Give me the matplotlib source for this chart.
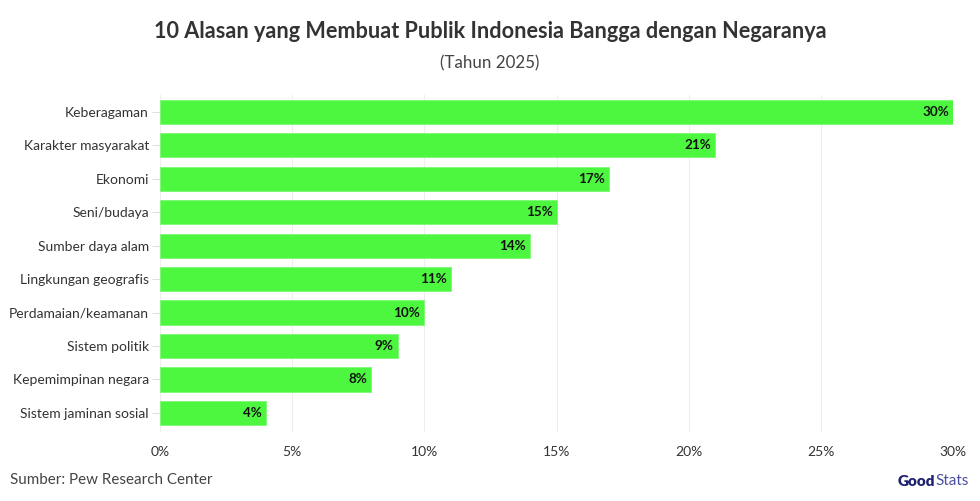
import matplotlib
matplotlib.use("Agg")
import matplotlib.pyplot as plt
from matplotlib.ticker import FuncFormatter

categories = ["Keberagaman", "Karakter masyarakat", "Ekonomi", "Seni/budaya",
              "Sumber daya alam", "Lingkungan geografis", "Perdamaian/keamanan",
              "Sistem politik", "Kepemimpinan negara", "Sistem jaminan sosial"]
values = [30, 21, 17, 15, 14, 11, 10, 9, 8, 4]
xticks = [0, 5, 10, 15, 20, 25, 30]

plt.rcParams['font.family'] = ['Lato', 'DejaVu Sans']

fig = plt.figure(figsize=(9.8, 5.01), dpi=100)
ax = fig.add_axes([160/980, 1-432/501, (953-160)/980, (432-95)/501])

ypos = list(range(len(categories)))
ax.barh(ypos, values, height=0.72, color="#4DF73F", edgecolor="#7CF873", linewidth=0.6, zorder=3)
for y, v in zip(ypos, values):
    ax.annotate(f"{v}%", (v, y), xytext=(-3, 0), textcoords="offset points",
                ha="right", va="center", fontsize=9.7, fontweight="bold", color="#111111", zorder=4)

ax.set_xlim(0, 30)
ax.set_ylim(9.57, -0.5)
ax.set_yticks(ypos)
ax.set_yticklabels(categories, fontsize=10, color="#333333")
ax.set_xticks(xticks)
ax.xaxis.set_major_formatter(FuncFormatter(lambda x, p: f"{int(x)}%"))
ax.tick_params(axis="x", length=0, labelsize=10, labelcolor="#333333", pad=10)
ax.tick_params(axis="y", length=6, color="#E0E0E0", width=0.8, pad=2)
ax.grid(axis="x", color="#EEEEEE", linewidth=0.8, zorder=0)
for s in ax.spines.values():
    s.set_visible(False)

fig.text(0.5, 1-32/501, "10 Alasan yang Membuat Publik Indonesia Bangga dengan Negaranya",
         ha="center", va="center", fontsize=15.6, fontweight="bold", color="#333333")
fig.text(0.5, 1-63/501, "(Tahun 2025)", ha="center", va="center", fontsize=12.2, color="#444444")
fig.text(10/980, 1-480/501, "Sumber: Pew Research Center", ha="left", va="center",
         fontsize=10.9, color="#444444")
fig.text(935/980, 1-481/501, "Good", ha="right", va="center", fontsize=11,
         fontweight="heavy", color="#1E2170")
fig.text(935/980, 1-481/501, "Stats", ha="left", va="center", fontsize=11,
         color="#4B4F9E")

fig.savefig("out.png", dpi=100, facecolor="white")
